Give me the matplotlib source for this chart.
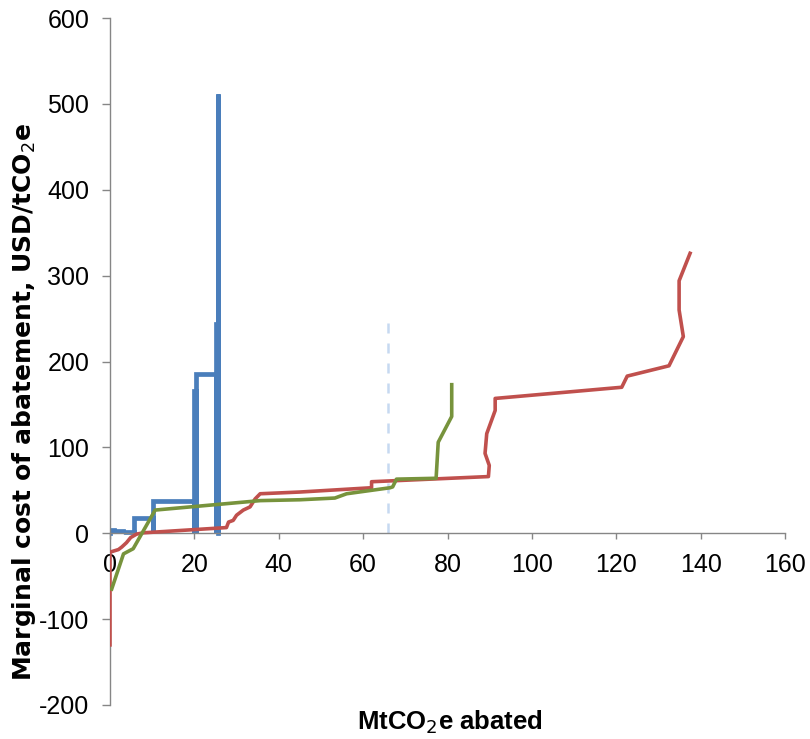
import matplotlib.pyplot as plt

plt.rcParams["font.family"] = ["Liberation Sans", "DejaVu Sans"]
plt.rcParams["axes.unicode_minus"] = False

# blue series: bars of the cost curve (start, end, cost)
blue_starts = [0.0, 1.0, 3.0, 5.6, 10.2, 20.0, 20.5, 25.2, 25.5]
blue_ends = [1.0, 3.0, 5.6, 10.2, 20.0, 20.5, 25.2, 25.5, 25.7]
blue_costs = [4, 3, 2, 18, 37, 166, 186, 244, 512]

red_x = [0.0, 0.0, 2.0, 2.8, 3.9, 4.9, 6.3, 7.9, 27.6, 28.1, 29.2, 30.0, 31.6,
         33.2, 34.4, 35.6, 45.0, 62.0, 62.0, 89.7, 89.9, 88.9, 89.3, 91.3,
         91.3, 121.3, 122.6, 132.5, 135.9, 134.9, 134.9, 137.5]
red_y = [-130, -22, -19, -16, -11, -5, -1, 0.5, 6.6, 13, 15, 21, 27,
         30.7, 40, 46, 48, 53, 60, 66, 79, 93, 116, 143,
         157, 170, 183, 195, 229, 260, 294, 326]

green_x = [0.4, 3.2, 5.5, 10.7, 35.6, 45.0, 53.3, 56.1, 66.4, 67.0, 67.9,
           77.3, 77.8, 81.0, 81.0]
green_y = [-65, -24, -18, 27, 38, 39, 41, 46, 53, 54, 63,
           64, 106, 136, 173]

target_x = [66, 66]
target_y = [0, 257]


def blue_outline():
    xs, ys = [], []
    for x0, x1, h in zip(blue_starts, blue_ends, blue_costs):
        xs += [x0, x0, x1, x1]
        ys += [0, h, h, 0]
    return xs, ys


def main():
    fig = plt.figure(figsize=(8.1, 7.39), dpi=100)
    ax = fig.add_axes([110 / 810, 34 / 739, 675 / 810, 687 / 739])

    bx, by = blue_outline()
    ax.plot(bx, by, color="#4A7EBB", lw=3.4, solid_joinstyle="miter", zorder=2)
    ax.plot(target_x, target_y, color="#C6D9F1", lw=1.8, ls=(0, (4, 4)), zorder=1)
    ax.plot(red_x, red_y, color="#C0504D", lw=2.6, zorder=3)
    ax.plot(green_x, green_y, color="#77933C", lw=2.6, zorder=4)

    ax.set_xlim(0, 160)
    ax.set_ylim(-200, 600)
    ax.set_xticks(range(0, 161, 20))
    ax.set_yticks(range(-200, 601, 100))

    for side in ["top", "right"]:
        ax.spines[side].set_visible(False)
    ax.spines["bottom"].set_position(("data", 0))
    for side in ["left", "bottom"]:
        ax.spines[side].set_color("#868686")
        ax.spines[side].set_linewidth(1.0)

    ax.tick_params(axis="x", length=4, width=1, color="#868686", pad=10, labelsize=18)
    ax.tick_params(axis="y", length=6, width=1, color="#868686", pad=9, labelsize=18)

    fig.text(450 / 810, 1 - 722 / 739, "MtCO$_2$e abated", ha="center", va="center",
             fontsize=18.5, fontweight="bold")
    fig.text(24 / 810, 1 - 402 / 739, "Marginal cost of abatement, USD/tCO$_2$e",
             ha="center", va="center", rotation=90, fontsize=18, fontweight="bold",
             family="DejaVu Sans")

    plt.savefig("out.png", dpi=100)
    plt.close()


if __name__ == "__main__":
    main()
